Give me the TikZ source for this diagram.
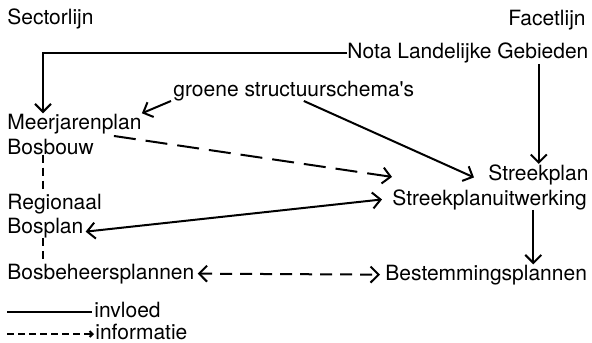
\documentclass[tikz,border=0pt]{standalone}
\usepackage{fontspec}
\setmainfont{TeX Gyre Heros}
\usetikzlibrary{arrows.meta}

\begin{document}
\begin{tikzpicture}[x=.5pt,y=-.5pt,>={Straight Barb[length=4pt,width=8pt]},
  every node/.style={font=\fontsize{10.5pt}{12pt}\selectfont},
  lbl/.style={anchor=base west,inner sep=0pt},
  infl/.style={line width=1pt},
  info/.style={line width=1pt,dash pattern=on 6pt off 4pt}]
 \useasboundingbox (0,0) rectangle (592,342);
 \node[lbl] (sector) at (7,25) {Sectorlijn};
 \node[lbl,anchor=base east] (facet) at (586,26) {Facetlijn};
 \node[lbl] (nota) at (347,59) {Nota Landelijke Gebieden};
 \node[lbl] (groene) at (173,96) {groene structuurschema\textquotesingle s};
 \node[lbl] (meerjaren) at (7,129) {Meerjarenplan};
 \node[lbl] (bosbouw) at (7,154) {Bosbouw};
 \node[lbl] (regionaal) at (7,209) {Regionaal};
 \node[lbl] (bosplan) at (7,233) {Bosplan};
 \node[lbl] (bosbeheer) at (7,279) {Bosbeheersplannen};
 \node[lbl] (streekplan) at (488,180) {Streekplan};
 \node[lbl] (uitwerking) at (392,205) {Streekplanuitwerking};
 \node[lbl] (bestemming) at (385,280) {Bestemmingsplannen};
 \node[lbl] (invloed) at (94,317) {invloed};
 \node[lbl] (informatie) at (95,339) {informatie};
 % invloed
 \draw[infl,->] (nota.west) -| ([xshift=18pt]meerjaren.north west);
 \draw[infl,->] ([xshift=-1pt]groene.south west) -- (meerjaren.north east);
 \draw[infl,->] ([xshift=5pt]groene.south) -- ([xshift=-7pt,yshift=-1.5pt]streekplan.west);
 \draw[infl,->] ([xshift=-25pt]nota.south east) -- ([xshift=-25pt]nota.south east |- streekplan.north);
 \draw[infl,<->] ([shift={(1pt,-2pt)}]bosplan.east) -- ([xshift=-5pt]uitwerking.west);
 \draw[infl,->] ([xshift=-27pt]uitwerking.south east) -- ([xshift=-27pt]uitwerking.south east |- bestemming.north);
 % informatie
 \draw[info,->,dash pattern=on 11pt off 5pt] ([shift={(-14pt,-1pt)}]meerjaren.south east) -- ([yshift=6pt]uitwerking.north west);
 \draw[info,<->] ([xshift=1.5pt]bosbeheer.east) -- ([xshift=-2.5pt]bestemming.west);
 \draw[info,dash pattern=on 4pt off 2.5pt] ([xshift=18pt]bosbouw.south west) -- ([xshift=18pt]regionaal.north west);
 \draw[info,dash pattern=on 4pt off 2.5pt] ([xshift=18pt]bosplan.south west) -- ([xshift=18pt]bosbeheer.north west);
 % legenda
 \coordinate (legA) at (7,312);
 \coordinate (legB) at (7,334);
 \draw[infl] (legA) -- ([xshift=-1pt]legA -| invloed.west);
 \draw[info,->,dash pattern=on 3.5pt off 2pt,>={Straight Barb[length=1.5pt,width=3pt]}]
   (legB) -- ([xshift=-.5pt]legB -| informatie.west);
\end{tikzpicture}
\end{document}
